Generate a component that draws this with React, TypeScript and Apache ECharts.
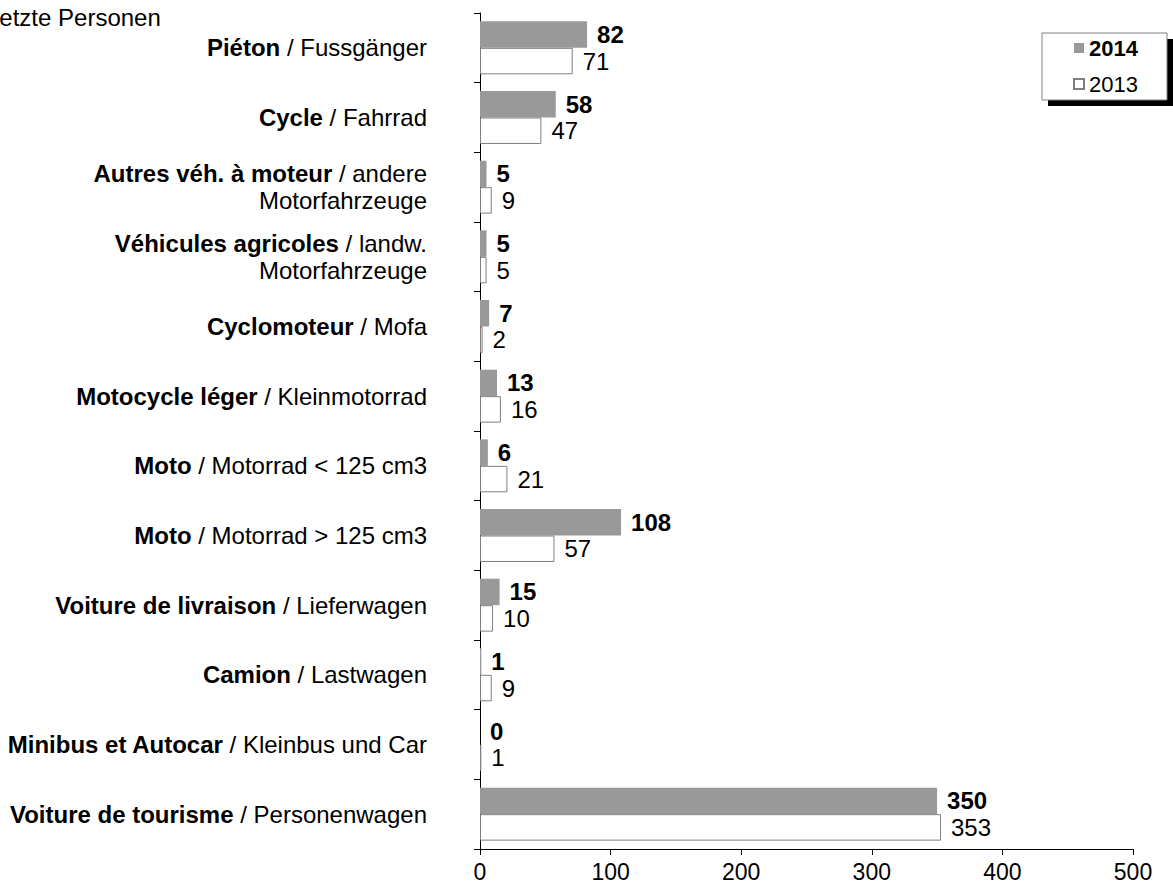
import React, { useEffect, useRef } from "react";
import * as echarts from "echarts";

const catFr = [
  "Piéton",
  "Cycle",
  "Autres véh. à moteur",
  "Véhicules agricoles",
  "Cyclomoteur",
  "Motocycle léger",
  "Moto",
  "Moto",
  "Voiture de livraison",
  "Camion",
  "Minibus et Autocar",
  "Voiture de tourisme",
];
const catDe = [
  " / Fussgänger",
  " / Fahrrad",
  " / andere\nMotorfahrzeuge",
  " / landw.\nMotorfahrzeuge",
  " / Mofa",
  " / Kleinmotorrad",
  " / Motorrad < 125 cm3",
  " / Motorrad > 125 cm3",
  " / Lieferwagen",
  " / Lastwagen",
  " / Kleinbus und Car",
  " / Personenwagen",
];
const values2014 = [82, 58, 5, 5, 7, 13, 6, 108, 15, 1, 0, 350];
const values2013 = [71, 47, 9, 5, 2, 16, 21, 57, 10, 9, 1, 353];
const xTicks = [0, 100, 200, 300, 400, 500];
const seriesNames = ["2014", "2013"];
const titleText = "Verletzte Personen";

const FONT = "'Liberation Sans', Arial, Helvetica, sans-serif";

export default function App() {
  const ref = useRef<HTMLDivElement>(null);
  useEffect(() => {
    if (!ref.current) return;
    const chart = echarts.init(ref.current, undefined, { renderer: "svg" });
    const categories = catFr.map((_, i) => String(i));
    chart.setOption({
      animation: false,
      backgroundColor: "#ffffff",
      textStyle: { fontFamily: FONT, color: "#000" },
      grid: { left: 480, right: 40, top: 13, bottom: 34, containLabel: false },
      graphic: [
        {
          type: "text",
          left: -42,
          top: 5,
          style: { text: titleText, fontSize: 24, fontFamily: FONT, fill: "#000" },
        },
        {
          type: "rect",
          shape: { x: 1048, y: 39, width: 125, height: 67 },
          style: { fill: "#000" },
          z: 1,
        },
        {
          type: "rect",
          shape: { x: 1042, y: 33, width: 125, height: 67 },
          style: { fill: "#fff", stroke: "#808080", lineWidth: 1 },
          z: 2,
        },
      ],
      legend: {
        data: seriesNames,
        orient: "vertical",
        left: 1073,
        top: 37,
        padding: 0,
        itemGap: 14,
        itemWidth: 10,
        itemHeight: 10,
        icon: "rect",
        z: 10,
        formatter: (name: string) => (name === "2014" ? `{b|${name}}` : `{n|${name}}`),
        textStyle: {
          fontFamily: FONT,
          fontSize: 22,
          lineHeight: 22,
          color: "#000",
          rich: {
            b: { fontFamily: FONT, fontSize: 22, fontWeight: "bold", color: "#000", lineHeight: 22 },
            n: { fontFamily: FONT, fontSize: 22, color: "#000", lineHeight: 22 },
          },
        },
      },
      xAxis: {
        type: "value",
        min: xTicks[0],
        max: xTicks[xTicks.length - 1],
        interval: xTicks[1] - xTicks[0],
        splitLine: { show: false },
        axisLine: { show: true, lineStyle: { color: "#000", width: 1 } },
        axisTick: { show: true, length: 6, lineStyle: { color: "#000" } },
        axisLabel: { fontFamily: FONT, fontSize: 23, color: "#000", margin: 11 },
      },
      yAxis: {
        type: "category",
        inverse: true,
        data: categories,
        axisLine: { show: true, lineStyle: { color: "#000", width: 1 } },
        axisTick: { show: true, length: 6, alignWithLabel: false, lineStyle: { color: "#000" } },
        axisLabel: {
          margin: 53,
          fontFamily: FONT,
          fontSize: 24,
          lineHeight: 27,
          color: "#000",
          align: "right",
          formatter: (v: string) => {
            const i = Number(v);
            return `{b|${catFr[i]}}{n|${catDe[i].split("\n")[0]}}` +
              (catDe[i].includes("\n") ? `\n{n|${catDe[i].split("\n")[1]}}` : "");
          },
          rich: {
            b: { fontFamily: FONT, fontSize: 24, fontWeight: "bold", color: "#000", lineHeight: 27 },
            n: { fontFamily: FONT, fontSize: 24, color: "#000", lineHeight: 27 },
          },
        },
      },
      series: [
        {
          name: seriesNames[0],
          type: "bar",
          data: values2014,
          barGap: "0%",
          barCategoryGap: "24%",
          itemStyle: { color: "#999999" },
          label: {
            show: true,
            position: "right",
            distance: 10,
            fontFamily: FONT,
            fontSize: 24,
            fontWeight: "bold",
            color: "#000",
          },
        },
        {
          name: seriesNames[1],
          type: "bar",
          data: values2013,
          barGap: "0%",
          barCategoryGap: "24%",
          itemStyle: { color: "#ffffff", borderColor: "#7f7f7f", borderWidth: 1 },
          label: {
            show: true,
            position: "right",
            distance: 10,
            fontFamily: FONT,
            fontSize: 24,
            color: "#000",
          },
        },
      ],
    });
    return () => chart.dispose();
  }, []);
  return (
    <div
      ref={ref}
      style={{ position: "fixed", left: 0, top: 0, width: 1173, height: 883 }}
    />
  );
}
